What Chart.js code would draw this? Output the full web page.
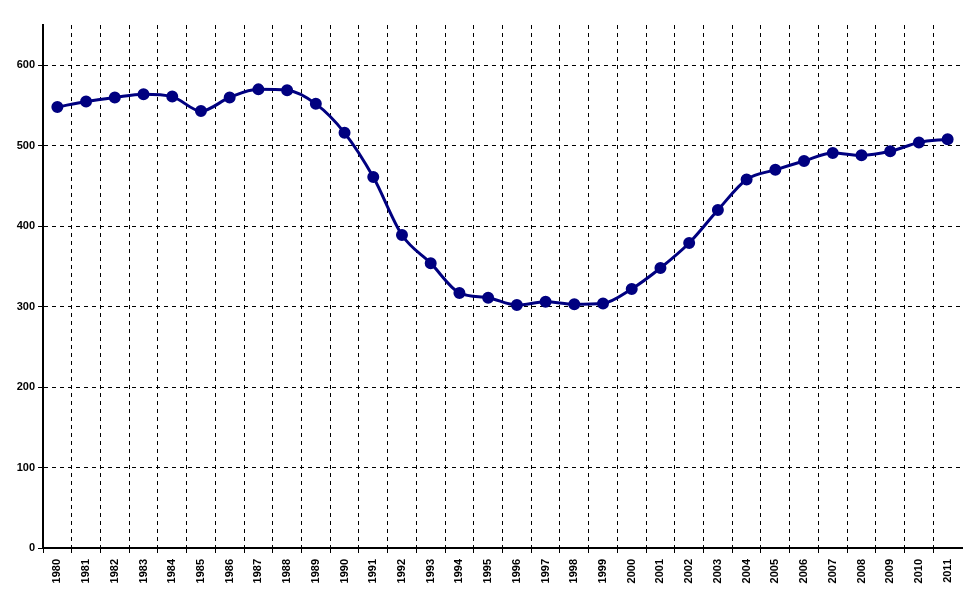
<!DOCTYPE html>
<html><head><meta charset="utf-8">
<script src="https://cdn.jsdelivr.net/npm/chart.js@4/dist/chart.umd.min.js"></script>
<style>html,body{margin:0;padding:0;background:#fff}#wrap{width:977px;height:598px}</style>
</head><body><div id="wrap"><canvas id="c" width="977" height="598"></canvas></div>
<script>
const years = ["1980","1981","1982","1983","1984","1985","1986","1987","1988","1989","1990","1991","1992","1993","1994","1995","1996","1997","1998","1999","2000","2001","2002","2003","2004","2005","2006","2007","2008","2009","2010","2011"];
const values = [548,555,560,564,561,543,560,570,569,552,516,461,389,354,317,311,302,306,303,304,322,348,379,420,458,470,481,491,488,493,504,508];
const yTicks = [0,100,200,300,400,500,600];
const yMax = 650;

new Chart(document.getElementById('c'), {
  type: 'line',
  data: { labels: years, datasets: [{ data: values, borderColor: '#000080', backgroundColor: '#000080',
    borderWidth: 3, pointRadius: 4.5, pointHoverRadius: 4.5, cubicInterpolationMode: 'monotone' }] },
  options: {
    responsive: false, animation: false,
    layout: { padding: { top: 25, right: 15, left: 0, bottom: 0 } },
    plugins: { legend: { display: false }, tooltip: { enabled: false } },
    scales: {
      x: {
        offset: true,
        grid: { offset: true, color: (c) => (c.type !== 'tick' || c.index === 0) ? 'rgba(0,0,0,0)' : '#000', lineWidth: 1,
          tickBorderDash: [], tickColor: (c) => c.type !== 'tick' ? 'rgba(0,0,0,0)' : '#000', tickLength: 5, drawTicks: true },
        border: { color: '#000', width: 2, dash: [4,4] },
        ticks: { color: '#000', font: { family: 'Liberation Sans', size: 11, weight: 'bold' }, minRotation: 90, maxRotation: 90, padding: 6, autoSkip: false },
        afterFit: (s) => { s.height = 50; }
      },
      y: {
        min: 0, max: yMax,
        afterBuildTicks: (s) => { s.ticks = yTicks.map(v => ({ value: v })); },
        grid: { color: (c) => c.tick && c.tick.value === 0 ? 'rgba(0,0,0,0)' : '#000', lineWidth: 1, tickBorderDash: [], tickColor: '#000', tickLength: 5 },
        border: { color: '#000', width: 2, dash: [4,4] },
        ticks: { color: '#000', font: { family: 'Liberation Sans', size: 11, weight: 'bold' }, padding: 3 },
        afterFit: (s) => { s.width = 43; }
      }
    }
  }
});
</script></body></html>
